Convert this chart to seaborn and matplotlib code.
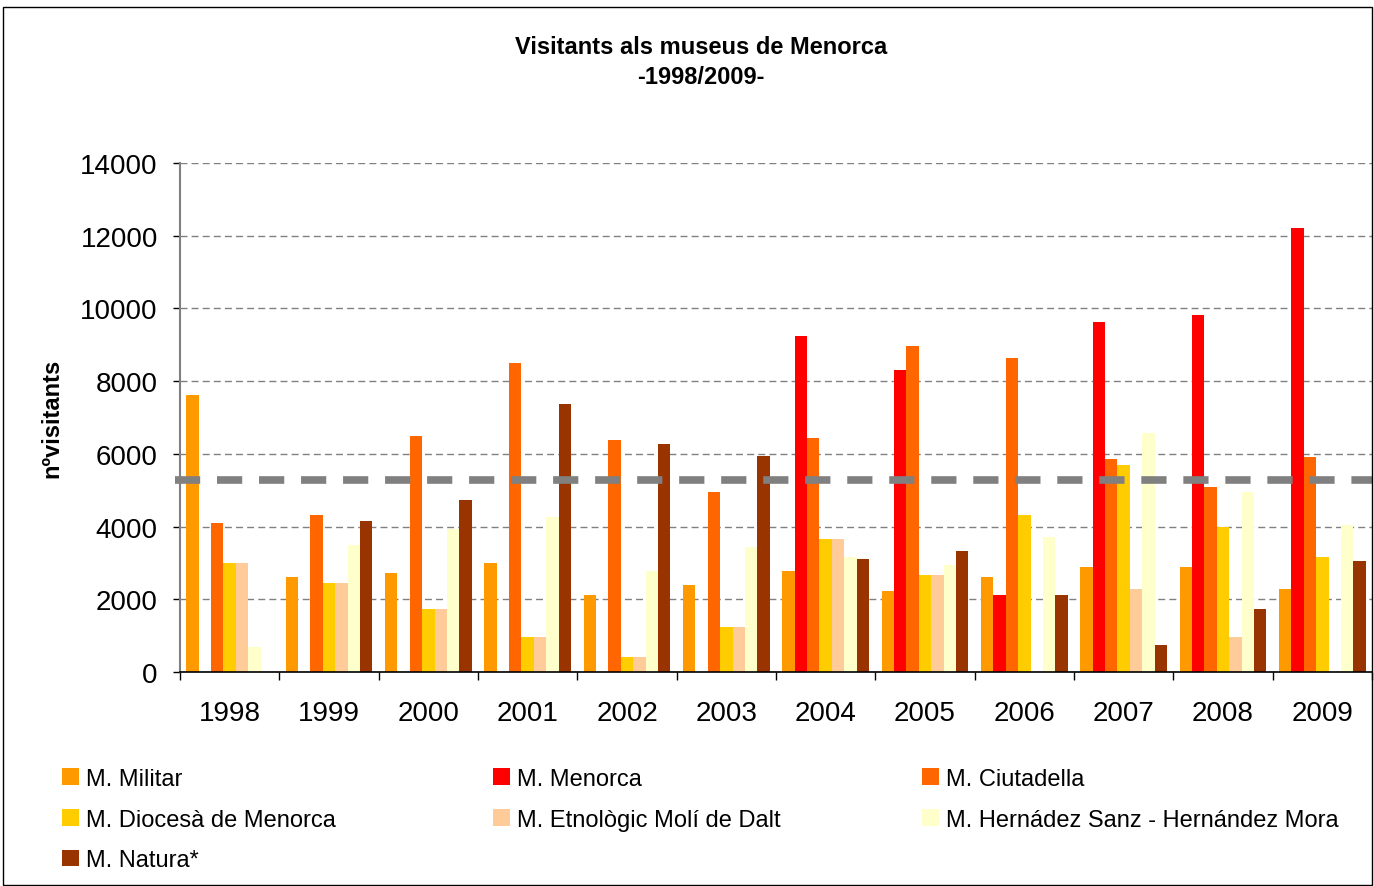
import matplotlib
matplotlib.use("Agg")
import matplotlib.pyplot as plt
from matplotlib.patches import Rectangle
from matplotlib.ticker import FixedLocator
import pandas as pd
import seaborn as sns

# visitors per museum and year
years = ["1998", "1999", "2000", "2001", "2002", "2003",
         "2004", "2005", "2006", "2007", "2008", "2009"]
militar = [7630, 2620, 2730, 3000, 2120, 2390, 2780, 2230, 2610, 2890, 2890, 2280]
menorca = [0, 0, 0, 0, 0, 0, 9240, 8300, 2120, 9620, 9830, 12220]
ciutadella = [4100, 4320, 6480, 8510, 6370, 4940, 6430, 8960, 8630, 5870, 5090, 5920]
diocesa = [3000, 2450, 1740, 960, 420, 1230, 3660, 2670, 4320, 5700, 3990, 3160]
etnologic = [3000, 2450, 1740, 960, 420, 1230, 3660, 2670, 0, 2280, 960, 0]
hernandez = [680, 3490, 3930, 4260, 2780, 3440, 3160, 2940, 3710, 6580, 4940, 4040]
natura = [0, 4160, 4720, 7370, 6260, 5930, 3110, 3330, 2120, 740, 1740, 3060]
average = 5275

museums = ["M. Militar", "M. Menorca", "M. Ciutadella", "M. Diocesà de Menorca",
           "M. Etnològic Molí de Dalt", "M. Hernádez Sanz - Hernández Mora", "M. Natura*"]
colors = ["#FF9900", "#FF0000", "#FF6600", "#FFCC00", "#FFCC99", "#FFFFCC", "#993300"]
series = [militar, menorca, ciutadella, diocesa, etnologic, hernandez, natura]

rows = []
for name, vals in zip(museums, series):
    for y, v in zip(years, vals):
        rows.append({"year": y, "museum": name, "visitors": v})
df = pd.DataFrame(rows)

sns.set_theme(style="white")
plt.rcParams["font.family"] = ["Liberation Sans", "DejaVu Sans"]
plt.rcParams["text.color"] = "black"
plt.rcParams["xtick.color"] = "black"
plt.rcParams["ytick.color"] = "black"

W, H = 1374, 887
fig = plt.figure(figsize=(W / 100, H / 100), dpi=100)
ax = fig.add_axes([180 / W, 1 - 673 / H, (1372 - 180) / W, (673 - 164) / H])

sns.barplot(data=df, x="year", y="visitors", hue="museum", hue_order=museums,
            palette=colors, saturation=1, width=0.87, linewidth=0, ax=ax)
handles, labels = ax.get_legend_handles_labels()
ax.get_legend().remove()

ax.set_ylim(0, 14000)
ax.set_xlim(-0.5, len(years) - 0.5)
ax.set_yticks(range(0, 14001, 2000))
ax.yaxis.grid(True, color="#808080", linestyle=(0, (5, 3)), linewidth=1)
ax.set_axisbelow(True)

# average line
ax.axhline(average, xmin=-0.004, xmax=1.0, color="#808080", lw=5.5,
           dashes=(3.3, 2.2), clip_on=False, zorder=5)

for s in ["top", "right"]:
    ax.spines[s].set_visible(False)
ax.spines["left"].set_color("#808080")
ax.spines["left"].set_linewidth(1.5)
ax.spines["bottom"].set_color("black")
ax.spines["bottom"].set_linewidth(1.2)

ax.tick_params(axis="y", left=True, length=5, width=1, color="black",
               labelsize=20, pad=11, labelcolor="black")
ax.tick_params(axis="x", which="major", length=0, labelsize=20, pad=20,
               labelcolor="black")
ax.xaxis.set_minor_locator(FixedLocator([i - 0.5 for i in range(len(years) + 1)]))
ax.tick_params(axis="x", which="minor", bottom=True, length=6, width=1, color="black")
ax.set_xlabel("")
ax.set_ylabel("")

fig.text(52 / W, 1 - 418 / H, "nºvisitants", rotation=90, fontsize=17,
         fontweight="bold", ha="center", va="center")
fig.text(701 / W, 1 - 47 / H, "Visitants als museus de Menorca",
         fontsize=17, fontweight="bold", ha="center", va="center")
fig.text(701 / W, 1 - 78 / H, "-1998/2009-",
         fontsize=17, fontweight="bold", ha="center", va="center")

# legend laid out row by row in three fixed columns
cols = [[0, 3, 6], [1, 4], [2, 5]]
xs = [62, 493, 922]
for idx, x in zip(cols, xs):
    fig.legend([handles[i] for i in idx], [labels[i] for i in idx],
               loc="upper left", bbox_to_anchor=(x / W, 1 - 769 / H),
               frameon=False, fontsize=17, handlelength=0.7, handleheight=0.7,
               handletextpad=0.3, labelspacing=0.79, borderpad=0, borderaxespad=0,
               labelcolor="black")

fig.patches.append(Rectangle((3 / W, 1 / H), (1372 - 3) / W, (879 - 1) / H,
                             transform=fig.transFigure, fill=False,
                             edgecolor="black", linewidth=1))

fig.savefig("out.png", dpi=100)
